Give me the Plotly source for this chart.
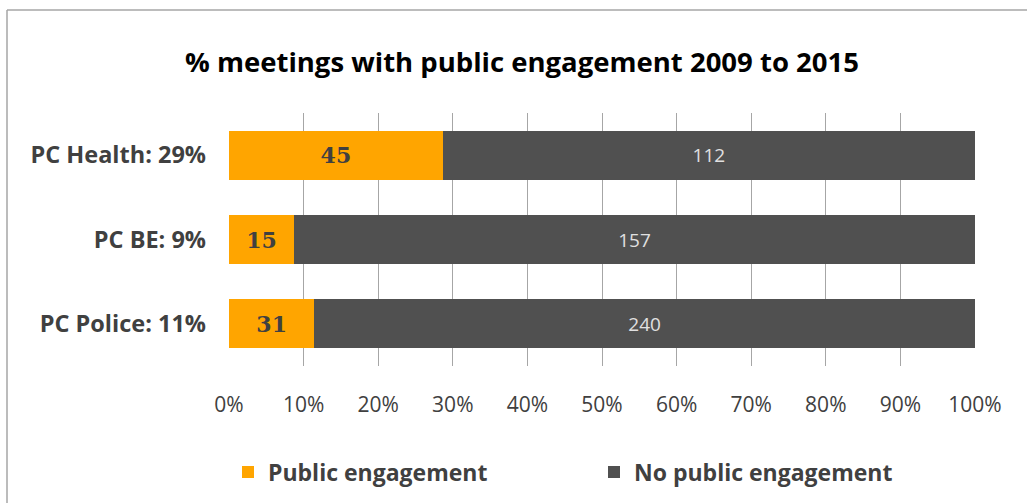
import plotly.graph_objects as go

# Meetings per committee, 2009-2015
categories = ["PC Health: 29%", "PC BE: 9%", "PC Police: 11%"]
public_engagement = [45, 15, 31]
no_public_engagement = [112, 157, 240]
tick_values = [0, 10, 20, 30, 40, 50, 60, 70, 80, 90, 100]
tick_labels = ["0%", "10%", "20%", "30%", "40%", "50%", "60%", "70%", "80%", "90%", "100%"]

ORANGE = "#FFA500"
DARK = "#505050"
TEXT = "#404040"
SANS = "'Open Sans', Lato, sans-serif"

fig = go.Figure()
fig.add_trace(go.Bar(
    y=categories, x=public_engagement, orientation="h",
    name="Public engagement", marker=dict(color=ORANGE, line=dict(width=0)),
    text=public_engagement, textposition="inside", insidetextanchor="middle",
    textfont=dict(family="'DejaVu Serif', serif", size=22, color=TEXT, weight="bold"),
    textangle=0, hoverinfo="skip",
))
fig.add_trace(go.Bar(
    y=categories, x=no_public_engagement, orientation="h",
    name="No public engagement", marker=dict(color=DARK, line=dict(width=0)),
    text=no_public_engagement, textposition="inside", insidetextanchor="middle",
    textfont=dict(family=SANS, size=19, color="#E0E0E0"),
    textangle=0, hoverinfo="skip",
))

W, H = 1027, 503
ML, MR, MT, MB = 229, 52, 113, 137
pw, ph = W - ML - MR, H - MT - MB

# chart frame (left and top edges)
fx0 = (7 - ML) / pw
fy1 = (H - MB - 10) / ph
fig.add_shape(type="line", xref="paper", yref="paper", x0=fx0, x1=fx0, y0=-1, y1=fy1,
              line=dict(color="#A6A6A6", width=1.5))
fig.add_shape(type="line", xref="paper", yref="paper", x0=fx0, x1=2, y0=fy1, y1=fy1,
              line=dict(color="#A6A6A6", width=1.5))

fig.update_layout(
    width=W, height=H,
    margin=dict(l=ML, r=MR, t=MT, b=MB, autoexpand=False),
    barmode="stack", barnorm="percent", bargap=0.42,
    paper_bgcolor="white", plot_bgcolor="white",
    title=dict(text="<b>% meetings with public engagement 2009 to 2015</b>",
               font=dict(family=SANS, size=27.5, color="black"),
               x=(522) / W, xanchor="center", y=1 - 62 / H, yanchor="middle"),
    xaxis=dict(range=[0, 100], tickvals=tick_values, ticktext=tick_labels,
               showgrid=True, gridcolor="#A6A6A6", gridwidth=1,
               zeroline=False, showline=False, ticks="",
               tickfont=dict(family=SANS, size=21, color=TEXT),
               ticklabelstandoff=24, fixedrange=True),
    yaxis=dict(categoryorder="array", categoryarray=categories, autorange="reversed",
               showgrid=False, zeroline=False, showline=False, ticks="",
               tickfont=dict(family=SANS, size=23.5, color=TEXT, weight="bold"),
               ticklabelstandoff=22, fixedrange=True),
    legend=dict(orientation="h", x=(228 - ML) / pw, xanchor="left",
                y=-(472 - (H - MB)) / ph, yanchor="middle",
                font=dict(family=SANS, size=23, color=TEXT, weight="bold"),
                entrywidth=321, entrywidthmode="pixels", traceorder="normal",
                itemclick=False, itemdoubleclick=False),
    showlegend=True,
    uniformtext=dict(mode=False),
)

fig.write_html("out.html")
